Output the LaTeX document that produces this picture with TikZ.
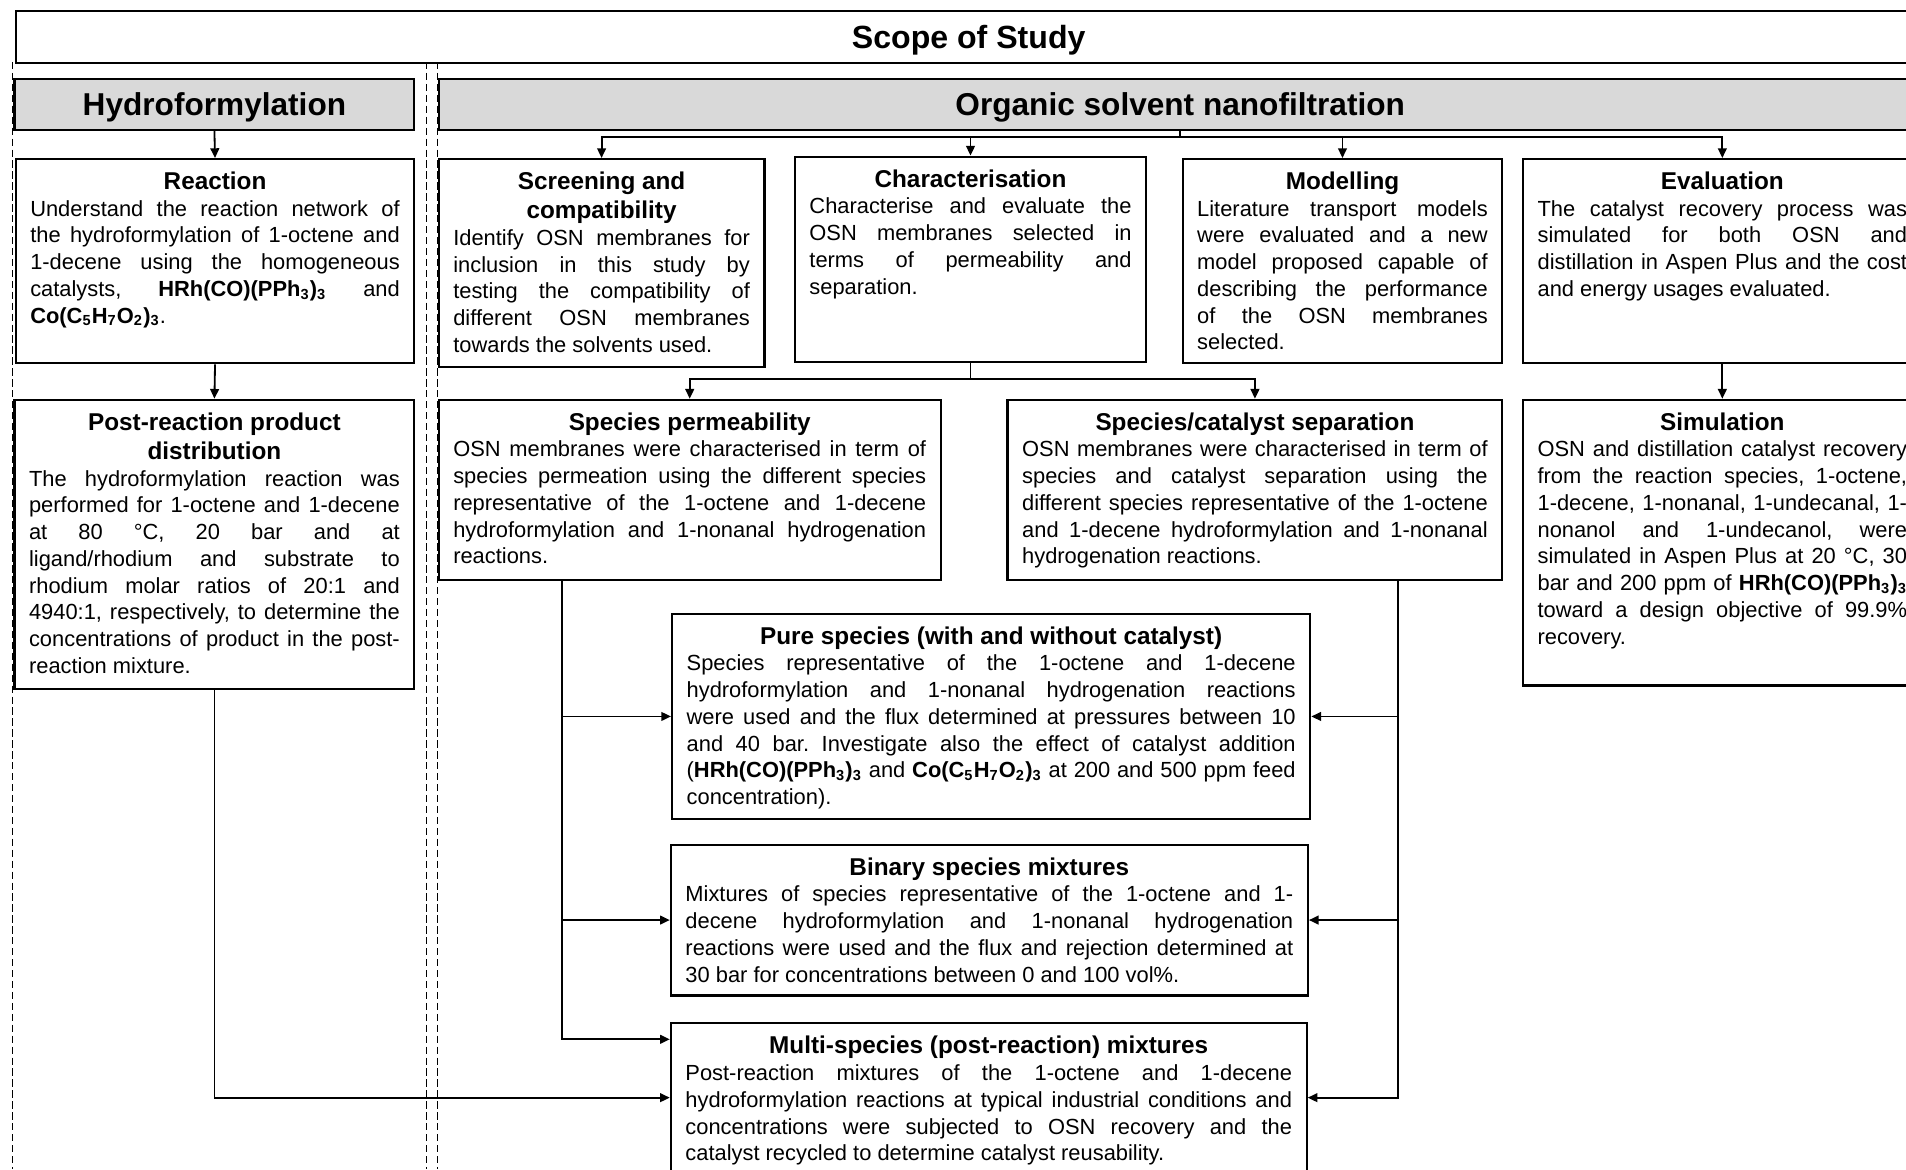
\documentclass[tikz,border=0pt]{standalone}
\usepackage{fontspec}
\setmainfont{Liberation Sans}
\usetikzlibrary{arrows.meta,calc}
\definecolor{hdr}{RGB}{217,217,217}
\newcommand{\hrh}{\textbf{HRh(CO)(PPh\textsubscript{3})\textsubscript{3}}}
\newcommand{\coac}{\textbf{Co(C\textsubscript{5}H\textsubscript{7}O\textsubscript{2})\textsubscript{3}}}
\newcommand{\bt}[4]{\parbox[t][#2][t]{#1}{\parindent0pt\frenchspacing\centering\fontsize{10}{12}\selectfont\bfseries\rule{0pt}{12.5pt}#3\par
\fontsize{9}{11}\selectfont\mdseries\leftskip6pt\rightskip6pt\parfillskip0pt plus 1fil\relax
\tolerance10000 \hbadness10000 \hfuzz20pt \hyphenpenalty10000 \exhyphenpenalty10000 #4\par}}
\begin{document}
\begin{tikzpicture}[x=0.5pt,y=-0.5pt,
  bx/.style={draw, line width=0.9pt, inner sep=0pt, anchor=north west, fill=white},
  hd/.style={draw, line width=0.9pt, inner sep=0pt, anchor=north west, fill=hdr,
    text depth=0pt, font=\fontsize{13}{15}\selectfont\bfseries},
  ln/.style={line width=0.75pt},
  arr/.style={line width=0.75pt, -{Triangle[length=4pt,width=3.6pt]}},
  sep/.style={line width=0.6pt, dash pattern=on 3pt off 1.5pt}]
\clip (0,0) rectangle (1568,962);
\fill[white] (0,0) rectangle (1568,962);
% dashed separators
\draw[sep] (10.5,51) -- (10.5,962);
\draw[sep] (351,51) -- (351,962);
\draw[sep] (360,51) -- (360,962);
% headers
\node[bx, minimum width=784pt, minimum height=21.5pt, text depth=0pt, font=\fontsize{13.2}{15}\selectfont\bfseries] (scope) at (12,8) {Scope of Study};
\node[hd, minimum width=164.5pt, minimum height=21pt] (hyd) at (11,64) {Hydroformylation};
\node[hd, minimum width=610pt, minimum height=21pt] (osn) at (360,64) {Organic solvent nanofiltration};
% hydroformylation column
\node[bx] (reaction) at (12,130) {\bt{164pt}{84pt}{Reaction}{Understand the reaction network of\linebreak the hydroformylation of 1-octene and\linebreak 1-decene using the homogeneous\linebreak catalysts, \hrh{} and\linebreak \coac.}};
\node[bx] (post) at (11,328) {\bt{164.5pt}{119pt}{Post-reaction product\\distribution}{The hydroformylation reaction was\linebreak performed for 1-octene and 1-decene\linebreak at 80 °C, 20 bar and at\linebreak ligand/rhodium and substrate to\linebreak rhodium molar ratios of 20:1 and\linebreak 4940:1, respectively, to determine the\linebreak concentrations of product in the post-\linebreak reaction mixture.}};
% OSN row
\node[bx] (screen) at (360,130) {\bt{134pt}{85.5pt}{Screening and\\compatibility}{Identify OSN membranes for\linebreak inclusion in this study by\linebreak testing the compatibility of\linebreak different OSN membranes\linebreak towards the solvents used.}};
\node[bx] (charac) at (653,128) {\bt{144.5pt}{84.5pt}{Characterisation}{Characterise and evaluate the\linebreak OSN membranes selected in\linebreak terms of permeability and\linebreak separation.}};
\node[bx] (model) at (972,130) {\bt{131.5pt}{84pt}{Modelling}{Literature transport models\linebreak were evaluated and a new\linebreak model proposed capable of\linebreak describing the performance\linebreak of the OSN membranes\linebreak selected.}};
\node[bx] (eval) at (1252,130) {\bt{164pt}{84pt}{Evaluation}{The catalyst recovery process was\linebreak simulated for both OSN and\linebreak distillation in Aspen Plus and the cost\linebreak and energy usages evaluated.}};
% second row
\node[bx] (perm) at (360,328) {\bt{206.5pt}{74pt}{Species permeability}{OSN membranes were characterised in term of\linebreak species permeation using the different species\linebreak representative of the 1-octene and 1-decene\linebreak hydroformylation and 1-nonanal hydrogenation\linebreak reactions.}};
\node[bx] (sepn) at (828,328) {\bt{203.5pt}{74pt}{Species/catalyst separation}{OSN membranes were characterised in term of\linebreak species and catalyst separation using the\linebreak different species representative of the 1-octene\linebreak and 1-decene hydroformylation and 1-nonanal\linebreak hydrogenation reactions.}};
\node[bx] (sim) at (1252,328) {\bt{164pt}{117.5pt}{Simulation}{OSN and distillation catalyst recovery\linebreak from the reaction species, 1-octene,\linebreak 1-decene, 1-nonanal, 1-undecanal, 1-\linebreak nonanol and 1-undecanol, were\linebreak simulated in Aspen Plus at 20 °C, 30\linebreak bar and 200 ppm of \hrh\linebreak toward a design objective of 99.9\%\linebreak recovery.}};
% experiment boxes
\node[bx] (pure) at (552,504) {\bt{262.5pt}{84.5pt}{Pure species (with and without catalyst)}{Species representative of the 1-octene and 1-decene\linebreak hydroformylation and 1-nonanal hydrogenation reactions\linebreak were used and the flux determined at pressures between 10\linebreak and 40 bar. Investigate also the effect of catalyst addition\linebreak (\hrh{} and \coac{} at 200 and 500 ppm feed\linebreak concentration).}};
\node[bx] (binary) at (551,694) {\bt{262pt}{62pt}{Binary species mixtures}{Mixtures of species representative of the 1-octene and 1-\linebreak decene hydroformylation and 1-nonanal hydrogenation\linebreak reactions were used and the flux and rejection determined at\linebreak 30 bar for concentrations between 0 and 100 vol\%.}};
\node[bx] (multi) at (551,841) {\bt{261.5pt}{79.5pt}{Multi-species (post-reaction) mixtures}{Post-reaction mixtures of the 1-octene and 1-decene\linebreak hydroformylation reactions at typical industrial conditions and\linebreak concentrations were subjected to OSN recovery and the\linebreak catalyst recycled to determine catalyst reusability.}};
% junction coordinates
\coordinate (jo) at ($(osn.south)+(0,5)$);
\coordinate (jc) at ($(charac.south)+(0,13)$);
\coordinate (pl) at ($(perm.south west)+(102,0)$);
\coordinate (pr) at ($(sepn.south west)+(322,0)$);
\coordinate (ma) at ($(multi.north west)+(0,14)$);
\coordinate (mc) at ($(multi.north west)+(0,62)$);
\coordinate (mb) at ($(multi.north east)+(0,62)$);
% connectors
\draw[arr] (hyd.south) -- (reaction.north);
\draw[arr] (reaction.south) -- (post.north);
\draw[arr] (post.south) |- (mc);
\draw[ln] (osn.south) -- (jo);
\draw[arr] (jo) -| (screen.north);
\draw[arr] (jo) -| (charac.north);
\draw[arr] (jo) -| (model.north);
\draw[arr] (jo) -| (eval.north);
\draw[ln] (charac.south) -- (jc);
\draw[arr] (jc) -| (perm.north);
\draw[arr] (jc) -| (sepn.north);
\draw[arr] (eval.south) -- (sim.north);
\draw[arr] (pl) |- (pure.west);
\draw[arr] (pl) |- (binary.west);
\draw[arr] (pl) |- (ma);
\draw[arr] (pr) |- (pure.east);
\draw[arr] (pr) |- (binary.east);
\draw[arr] (pr) |- (mb);
\end{tikzpicture}
\end{document}
